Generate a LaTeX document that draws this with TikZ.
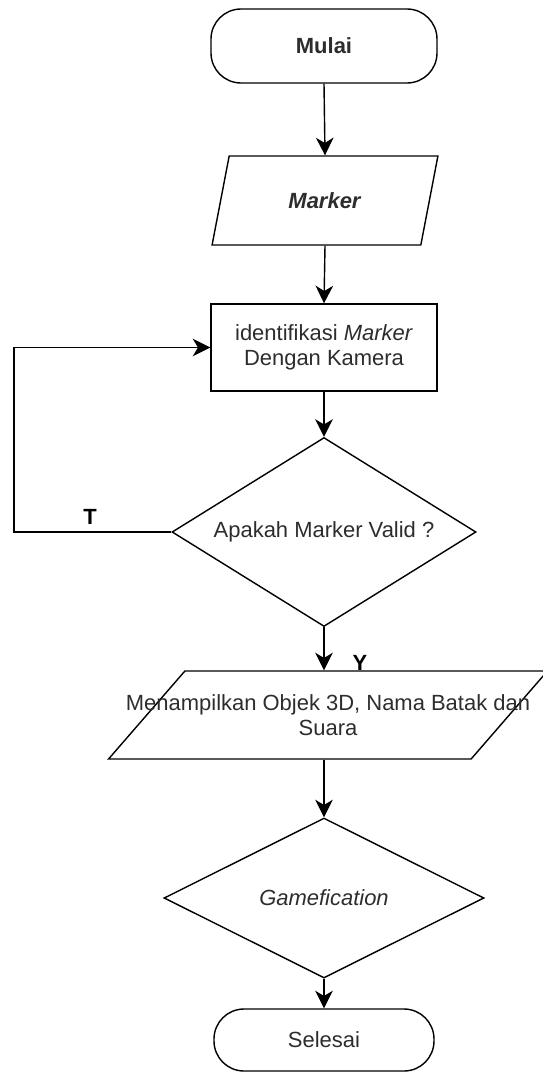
\documentclass[tikz,border=0pt]{standalone}
\usepackage{fontspec}
\setmainfont{Liberation Sans}
\usepackage{tikz}
\usetikzlibrary{shapes.geometric,arrows.meta}
\definecolor{abutua}{RGB}{45,45,45}
\newcommand{\hurufbagan}{\fontsize{12.5}{14}\selectfont}
\tikzset{>={Stealth[length=10pt,width=10pt,inset=3pt]}}
\tikzset{
  terminal/.style={draw, thick, rounded corners=0.6cm, minimum width=4.4cm, inner sep=0pt, text=abutua, font=\hurufbagan},
  proses/.style={draw, thick, minimum width=4.52cm, minimum height=1.74cm, inner sep=0pt, align=center, text=abutua, font=\hurufbagan},
  masukan/.style={draw, thick, trapezium, trapezium stretches=true, trapezium left angle=68, trapezium right angle=112, inner sep=0pt, align=center, text=abutua, font=\hurufbagan},
  keputusan/.style={draw, thick, diamond, inner sep=0pt, text=abutua, font=\hurufbagan},
  tanda/.style={font=\hurufbagan\bfseries, text=black},
  panah/.style={->, thick}
}

\begin{document}
\begin{tikzpicture}
	\useasboundingbox (0,0) rectangle (10.84,-21.44);

	\node[terminal, minimum height=1.48cm, minimum width=4.52cm] (mulai) at (6.48,-0.92) {\textbf{Mulai}};
	\node[masukan, minimum width=4.52cm, minimum height=1.78cm] (marker) at (6.5,-4.01) {\textbf{\textit{Marker}}};
	\node[proses] (identifikasi) at (6.48,-6.95) {identifikasi \textit{Marker}\\Dengan Kamera};
	\node[keputusan, aspect=1.61, minimum width=6.08cm, minimum height=3.78cm] (valid) at (6.48,-10.64) {Apakah Marker Valid ?};
	\node[masukan, trapezium left angle=69, trapezium right angle=111, minimum width=8.8cm, minimum height=1.76cm] (tampil) at (6.56,-14.3) {\makebox[0pt]{Menampilkan Objek 3D, Nama Batak dan}\\Suara};
	\node[keputusan, aspect=2, minimum width=6.4cm, minimum height=3.2cm] (game) at (6.48,-17.96) {\textit{Gamefication}};
	\node[terminal, minimum height=1.24cm] (selesai) at (6.48,-20.8) {Selesai};

	\draw[panah] (mulai.south) -- (marker.north);
	\draw[panah] (marker.south) -- (identifikasi.north);
	\draw[panah] (identifikasi.south) -- (valid.north);

	% jalur kembali jika marker tidak valid
	\coordinate (belok) at (0.28,-10.64);
	\draw[panah] (valid.west) -- (belok) |- (identifikasi.west);
	\node[tanda] (tidak) at (1.8,-10.34) {T};

	\draw[panah] (valid.south) -- (valid.south |- tampil.north);
	\node[tanda] (ya) at (7.2,-13.26) {Y};

	\draw[panah] (game.north |- tampil.south) -- (game.north);
	\draw[panah] (game.south) -- (selesai.north);

\end{tikzpicture}
\end{document}
